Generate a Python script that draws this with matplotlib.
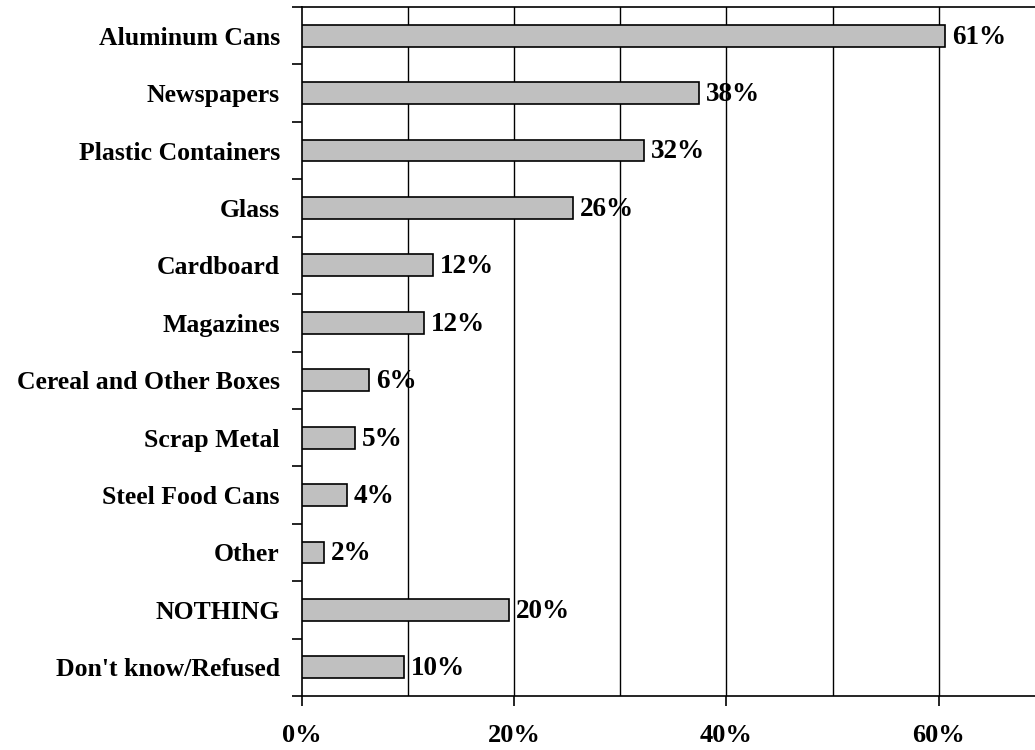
import numpy as np
import matplotlib.pyplot as plt
from matplotlib.ticker import FixedLocator

plt.rcParams['font.family'] = ['Liberation Serif', 'DejaVu Serif']
plt.rcParams['font.weight'] = 'bold'

# Values
categories = ['Aluminum Cans', 'Newspapers', 'Plastic Containers', 'Glass',
              'Cardboard', 'Magazines', 'Cereal and Other Boxes', 'Scrap Metal',
              'Steel Food Cans', 'Other', 'NOTHING', "Don't know/Refused"]
values = [60.6, 37.4, 32.2, 25.5, 12.3, 11.5, 6.3, 5.0, 4.2, 2.1, 19.5, 9.6]
labels = ['61%', '38%', '32%', '26%', '12%', '12%', '6%', '5%', '4%', '2%',
          '20%', '10%']
xticks = [0, 20, 40, 60]
xticklabels = ['0%', '20%', '40%', '60%']

fig = plt.figure(figsize=(10.35, 7.5), dpi=100)
ax = fig.add_axes([302/1035, 54/750, 742.7/1035, 689/750])

y = np.arange(len(categories))
ax.barh(y, values, height=0.38, color='#c0c0c0', edgecolor='black',
        linewidth=1.2, zorder=3)

for yi, v, lab in zip(y, values, labels):
    ax.annotate(lab, (v, yi), xytext=(5, -1), textcoords='offset points',
                va='center', ha='left', fontsize=19.5, fontweight='bold', zorder=4)

ax.set_xlim(0, 70)
ax.set_ylim(len(categories) - 0.5, -0.5)

# vertical gridlines every 10%
for g in range(10, 70, 10):
    ax.axvline(g, color='black', linewidth=1.0, zorder=1)

ax.set_xticks(xticks)
ax.set_xticklabels(xticklabels, fontsize=19, fontweight='bold')
ax.tick_params(axis='x', direction='out', length=7, width=1.2, pad=13)

ax.set_yticks(y)
ax.set_yticklabels(categories, fontsize=18.5, fontweight='bold')
ax.tick_params(axis='y', which='major', length=0, pad=16)
ax.yaxis.set_minor_locator(FixedLocator(np.arange(-0.5, len(categories), 1)))
ax.tick_params(axis='y', which='minor', direction='out', length=7, width=1.2)

for s in ['left', 'bottom', 'top']:
    ax.spines[s].set_linewidth(1.2)
ax.spines['right'].set_visible(False)

fig.savefig('out.png', dpi=100)
